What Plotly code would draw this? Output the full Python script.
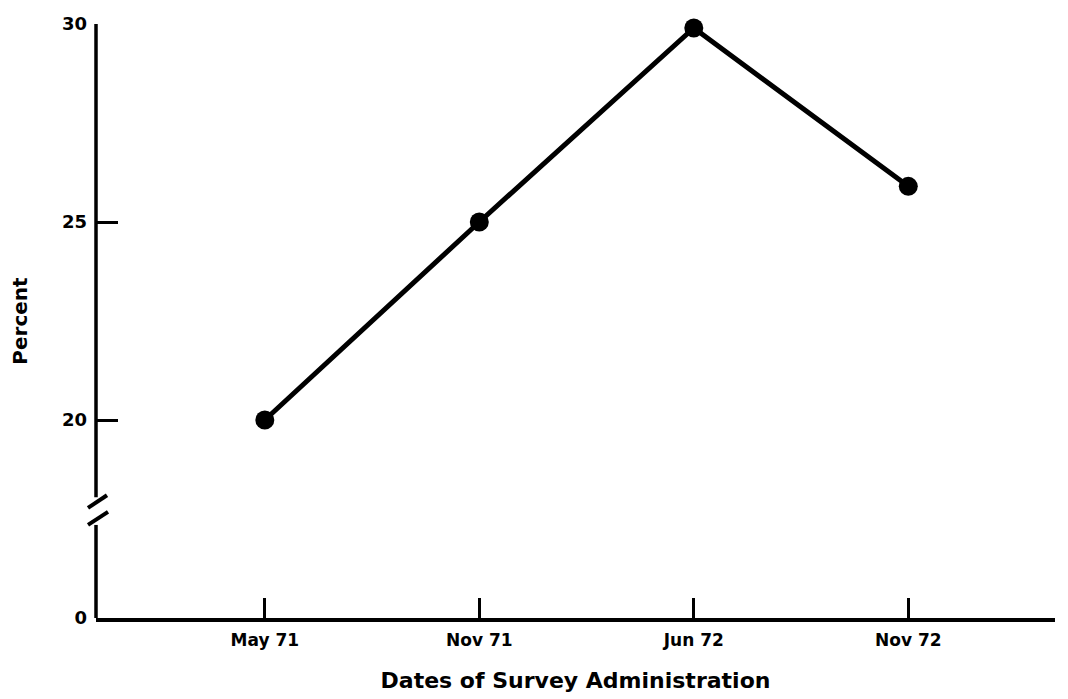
import plotly.graph_objects as go

# Data
dates = ["May 71", "Nov 71", "Jun 72", "Nov 72"]
percent = [20.0, 25.0, 29.9, 25.9]

# Axis labelling (broken axis: "0" drawn at value 15)
ytick_vals = [15, 20, 25, 30]
ytick_text = ["0", "20", "25", "30"]

x_idx = list(range(len(dates)))

FONT = "DejaVu Sans"

fig = go.Figure()
fig.add_trace(go.Scatter(
    x=x_idx, y=percent, mode="lines+markers",
    line=dict(color="black", width=5),
    marker=dict(color="black", size=19),
    cliponaxis=False, showlegend=False,
))

shapes = [
    # upper y-axis segment
    dict(type="line", xref="paper", yref="y", x0=0, x1=0, y0=18.05, y1=30.05,
         line=dict(color="black", width=3.5)),
    # lower y-axis segment
    dict(type="line", xref="paper", yref="y", x0=0, x1=0, y0=15, y1=17.35,
         line=dict(color="black", width=3.5)),
    # break slashes
    dict(type="line", xref="paper", yref="y", xsizemode="pixel", xanchor=0,
         x0=-8, x1=11, y0=17.78, y1=18.1, line=dict(color="black", width=4)),
    dict(type="line", xref="paper", yref="y", xsizemode="pixel", xanchor=0,
         x0=-8, x1=12, y0=17.35, y1=17.68, line=dict(color="black", width=4)),
]

fig.update_layout(
    width=1060, height=691,
    margin=dict(l=88, r=13, t=16, b=81),
    paper_bgcolor="white", plot_bgcolor="white",
    font=dict(family=FONT, color="black"),
    shapes=shapes,
    xaxis=dict(
        range=[-0.787, 3.684],
        tickvals=x_idx, ticktext=[f"<b>{d}</b>" for d in dates],
        ticks="inside", ticklen=20, tickwidth=3, tickcolor="black",
        ticklabelstandoff=4,
        tickfont=dict(size=17, family=FONT),
        showline=True, linecolor="black", linewidth=3.5,
        showgrid=False, zeroline=False, automargin=False,
        title=dict(text="<b>Dates of Survey Administration</b>",
                   font=dict(size=22, family=FONT), standoff=24),
    ),
    yaxis=dict(
        range=[15, 30],
        tickvals=ytick_vals, ticktext=[f"<b>{t}</b>" for t in ytick_text],
        ticks="inside", ticklen=22, tickwidth=3, tickcolor="black",
        ticklabelstandoff=8,
        tickfont=dict(size=18, family=FONT),
        showline=False, showgrid=False, zeroline=False, automargin=False,
        title=dict(text="<b>Percent</b>", font=dict(size=20, family=FONT),
                   standoff=28),
    ),
)

fig.write_html("out.html")
